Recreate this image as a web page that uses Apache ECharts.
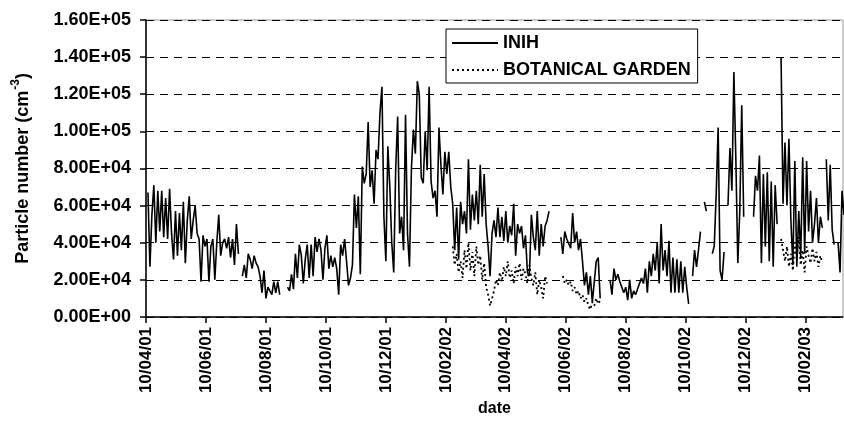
<!DOCTYPE html>
<html><head><meta charset="utf-8">
<script src="https://cdn.jsdelivr.net/npm/echarts@6/dist/echarts.min.js"></script>
<style>html,body{margin:0;padding:0;background:#fff}#c{width:844px;height:422px}</style>
</head><body><div id="c"></div>
<script>
// ---- data (values in thousands of particles per cm^3, one value every 2 days per segment) ----
const seriesNames = ['INIH', 'BOTANICAL GARDEN'];
const tickLabels = ['10/04/01','10/06/01','10/08/01','10/10/01','10/12/01','10/02/02','10/04/02','10/06/02','10/08/02','10/10/02','10/12/02','10/02/03'];
const stepDays = 2;

const inihSeg1Start = '2001-04-12';
const inihSeg1 = [67,27,55,71,40,68,46,68,43,64,42,69,45,31,57,33,56,36,62,29,52,65,42,52,60,45,42,19,44,38,42,19,38,42,20,40,55,33,40,42,37,43,32,42,28,50,34];
const inihSeg2Start = '2001-07-17';
const inihSeg2 = [22,28,21,34,31,26,33,29,27,22,13,25,10,16,17,12,19,13,19,12];
const inihSeg3Start = '2001-09-01';
const inihSeg3 = [16,14,23,15,34,21,39,33,18,31,39,21,39,22,43,35,42,36,20,37,44,26,33,27,32,26,12,39,33,42,30,17,21,28,66,48,65,23,81,72,77,105,70,79,61,90,85,110,124,
  54,30,92,70,40,24,80,108,45,54,36,109,45,27,80,101,88,127,120,75,72,100,79,124,73,64,68,54,102,82,66,89,77,89,70,
  61,36,59,31,62,50,57,45,85,47,66,52,68,50,82,54,77,50,38,22,45,52,43,59,43,
  54,41,57,40,49,44,61,33,50,45,49,37,44,24,22,55,43,36,57,33,50,38,49,52,57];
const inihSeg4Start = '2002-06-06';
const inihSeg4 = [43,34,46,42,43,37,56,40,46,36,42,30,17,24,12,22,8,19,30,32,10];
const inihSeg5Start = '2002-07-26';
const inihSeg5 = [20,12,26,20,23,19,16,13,16,9,20,10,14,12,15,14,21,18,26,13,30,22,34,25,40,18,50,25,36,22,41,13,32,13,31,13,30,13,27,16,7];
const inihSeg6Start = '2002-10-18';
const inihSeg6 = [22,36,27,36,46];
const inihSeg7Start = '2002-10-30';
const inihSeg7 = [62,57];
const inihSeg8Start = '2002-11-07';
const inihSeg8 = [34,38,66,102,25,20,35];
const inihSeg9Start = '2002-11-23';
const inihSeg9 = [60,91,68,132,85,29,57,114,54];
const inihSeg10Start = '2002-12-19';
const inihSeg10 = [54,76,68,87,29,77,38,78,30,73,27,71,50];
const inihSeg11Start = '2003-01-16';
const inihSeg11 = [140,61,94,60,96,52,28,84,27,57,32,86,34,84,46,68,40,50,64,40,54,48];
const inihSeg12Start = '2003-03-03';
const inihSeg12 = [85,52,82,47,39];
const inihSeg13Start = '2003-03-15';
const inihSeg13 = [40,24,68,55];

const botSegAStart = '2002-02-16';
const botSegA = [38,28,34,24,30,21,36,26,40,25,35,22,38,28,33,20,29,16,12,6,10,14,20,17,24,19,27,22,30,21,25,18,27,22,29,20,26,23,18,28,21,17,24,12,20,16,10,22,18];
const botSegBStart = '2002-06-08';
const botSegB = [22,18,20,17,19,14,16,12,14,10,12,8,10,6,4,8,6,10,7,9];
const botSegCStart = '2003-01-16';
const botSegC = [42,36,30,38,27,34,25,40,31,43,28,36,24,38,33,29,37,30,35,27,33,29];

const axisStartDate = '2001-04-10';   // first tick
const axisEndDate = '2003-03-20';     // right edge of plot
const tickStepDays = 61;              // two months between labelled ticks

// ---- helpers ----
const DAY = 86400000;
function dayNum(s){ const p = s.split('-').map(Number); return Date.UTC(p[0], p[1]-1, p[2]) / DAY; }
const day0 = dayNum(axisStartDate);
function buildSeries(segs){
  const out = [];
  segs.forEach(([start, vals], si) => {
    const d0 = dayNum(start) - day0;
    if (si > 0) out.push([d0 - 1, null]);
    vals.forEach((v, i) => out.push([d0 + stepDays*i, v*1000]));
  });
  return out;
}
function sci(v){
  if (v === 0) return '0.00E+00';
  const e = Math.floor(Math.log10(Math.abs(v)) + 1e-9);
  const m = v / Math.pow(10, e);
  return m.toFixed(2) + 'E' + (e < 0 ? '-' : '+') + String(Math.abs(e)).padStart(2, '0');
}

const inihData = buildSeries([
  [inihSeg1Start, inihSeg1],[inihSeg2Start, inihSeg2],[inihSeg3Start, inihSeg3],[inihSeg4Start, inihSeg4],
  [inihSeg5Start, inihSeg5],[inihSeg6Start, inihSeg6],[inihSeg7Start, inihSeg7],[inihSeg8Start, inihSeg8],
  [inihSeg9Start, inihSeg9],[inihSeg10Start, inihSeg10],[inihSeg11Start, inihSeg11],[inihSeg12Start, inihSeg12],
  [inihSeg13Start, inihSeg13]]);
const botData = buildSeries([[botSegAStart, botSegA],[botSegBStart, botSegB],[botSegCStart, botSegC]]);

const FONT = 'Arial, "Liberation Sans", Helvetica, sans-serif';
const chart = echarts.init(document.getElementById('c'), null, {renderer: 'canvas'});
chart.setOption({
  animation: false,
  backgroundColor: '#fff',
  textStyle: {fontFamily: FONT},
  grid: {left: 146, top: 20, right: 1, bottom: 100, show: true, borderColor: '#999', borderWidth: 1, backgroundColor: 'transparent'},
  legend: {
    orient: 'vertical', left: 446, top: 29,
    padding: [5, 7, 4, 5], itemWidth: 46, itemHeight: 18, itemGap: 9,
    backgroundColor: '#fff', borderColor: '#000', borderWidth: 1, borderRadius: 0,
    itemStyle: {opacity: 0},
    textStyle: {fontFamily: FONT, fontSize: 18, fontWeight: 'bold', color: '#000'},
    data: seriesNames
  },
  xAxis: {
    type: 'value',
    min: 0, max: dayNum(axisEndDate) - day0, interval: tickStepDays,
    name: 'date', nameLocation: 'middle', nameGap: 79,
    nameTextStyle: {fontFamily: FONT, fontSize: 16, fontWeight: 'bold', color: '#000'},
    axisLine: {show: true, onZero: false, lineStyle: {color: '#000', width: 1.5}},
    axisTick: {show: true, length: 6, lineStyle: {color: '#000', width: 1.5}},
    axisLabel: {rotate: 90, margin: 10, fontFamily: FONT, fontSize: 17, fontWeight: 'bold', color: '#000',
      showMaxLabel: false,
      formatter: v => { const i = Math.round(v / tickStepDays); return (Math.abs(v - i*tickStepDays) < 0.01 && tickLabels[i]) ? tickLabels[i] : ''; }},
    splitLine: {show: false}
  },
  yAxis: {
    type: 'value', min: 0, max: 160000, interval: 20000,
    name: '{a|Particle number (cm}{s|-3}{a|)}', nameLocation: 'middle', nameGap: 114,
    nameTextStyle: {fontFamily: FONT, color: '#000',
      rich: {a: {fontFamily: FONT, fontSize: 18, fontWeight: 'bold', color: '#000', lineHeight: 22, verticalAlign: 'bottom'},
             s: {fontFamily: FONT, fontSize: 12, fontWeight: 'bold', color: '#000', lineHeight: 22, verticalAlign: 'top', padding: [0, 0, 8, 1]}}},
    axisLine: {show: true, lineStyle: {color: '#000', width: 1.5}},
    axisTick: {show: true, length: 6, lineStyle: {color: '#000', width: 1.5}},
    axisLabel: {margin: 15, fontFamily: FONT, fontSize: 18, fontWeight: 'bold', color: '#000', formatter: sci},
    splitLine: {show: true, lineStyle: {color: '#000', type: [8, 6], width: 1}}
  },
  series: [
    {name: seriesNames[0], type: 'line', data: inihData, symbol: 'none', connectNulls: false,
     lineStyle: {color: '#000', width: 1.6}, itemStyle: {color: '#000'}},
    {name: seriesNames[1], type: 'line', data: botData, symbol: 'none', connectNulls: false,
     lineStyle: {color: '#000', width: 1.8, type: [2, 3]}, itemStyle: {color: '#000'}}
  ]
});
</script></body></html>
